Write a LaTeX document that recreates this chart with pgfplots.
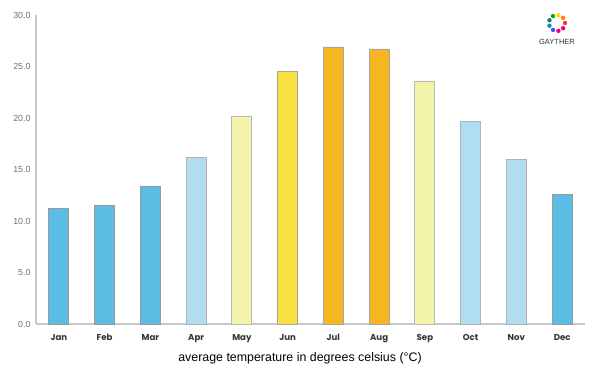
\documentclass[border=0pt]{standalone}
\usepackage{pgfplots}
\pgfplotsset{compat=1.18}
\usepackage{fontspec}
\setmainfont{Liberation Sans}
\newfontfamily\gothic{Poppins}
\definecolor{dblue}{HTML}{5BBDE4}
\definecolor{lblue}{HTML}{B0DEF0}
\definecolor{pyellow}{HTML}{F3F4AA}
\definecolor{yel}{HTML}{F7E040}
\definecolor{orng}{HTML}{F5B622}
\definecolor{tickgray}{HTML}{6E6E6E}
\begin{document}
\begin{tikzpicture}[x=1pt,y=1pt]
\useasboundingbox (0,0) rectangle (600,375);
\begin{axis}[
  at={(36pt,51pt)}, anchor=south west,
  scale only axis, width=549pt, height=309pt,
  xmin=-0.5, xmax=11.5, ymin=0, ymax=30,
  axis x line*=bottom, axis y line*=left,
  axis line style={draw=black!22, line width=1.2pt},
  xtick={0,...,11},
  xticklabels={Jan,Feb,Mar,Apr,May,Jun,Jul,Aug,Sep,Oct,Nov,Dec},
  ytick={0,5,...,30},
  major tick length=0pt,
  yticklabel style={font=\fontsize{8.8}{10}\selectfont, text=tickgray, xshift=-2pt},
  xticklabel style={font=\gothic\bfseries\fontsize{8.6}{10}\selectfont, text=black!80, yshift=-7pt},
  /pgf/number format/.cd, fixed, fixed zerofill, precision=1, assume math mode=true,
  /pgfplots/.cd,
  ybar, bar width=20pt,
  every axis plot/.append style={bar shift=0pt, line width=0.8pt},
  clip=false,
]
\addplot[fill=dblue, draw=black!40] coordinates {(0,11.2) (1,11.5) (2,13.4) (11,12.6)};
\addplot[fill=lblue, draw=black!30] coordinates {(3,16.2) (9,19.7) (10,16.0)};
\addplot[fill=pyellow, draw=black!28] coordinates {(4,20.2) (8,23.6)};
\addplot[fill=yel, draw=black!35] coordinates {(5,24.5)};
\addplot[fill=orng, draw=black!35] coordinates {(6,26.9) (7,26.7)};
\end{axis}
\node[font=\fontsize{12.4}{14}\selectfont, text=black] at (300,17) {average temperature in degrees celsius (°C)};
% logo
\foreach \a/\c in {0/red!80,40/orange,80/yellow!80!orange,120/green!70!black,160/teal,200/cyan!70!blue,240/blue!70,280/magenta,320/red!60!magenta}
  \fill[\c] (557,352) ++(\a:8) circle (2.2);
\node[font=\fontsize{7.5}{9}\selectfont, text=black!80] at (557,333) {GAYTHER};
\end{tikzpicture}
\end{document}
